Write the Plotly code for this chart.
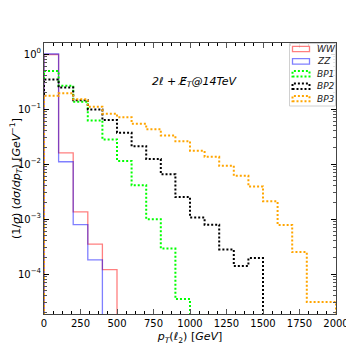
import plotly.graph_objects as go

# bin edges (GeV), 100 GeV bins
edges = list(range(0, 2100, 100))

# normalised pT(l2) distributions
ww = [0.98, 0.016, 1.35e-3, 3.5e-4, 1.2e-4]
zz = [1.0, 0.011, 7.9e-4, 1.8e-4]
bp1 = [0.49, 0.265, 0.135, 0.062, 0.028, 0.0114, 0.0041, 9.9e-4, 2.9e-4, 3.5e-5]
bp2 = [0.345, 0.245, 0.145, 0.098, 0.063, 0.037, 0.021, 0.0123, 0.0065,
       0.0025, 1.06e-3, 7.9e-4, 2.8e-4, 1.4e-4, 1.95e-4]
bp3 = [0.175, 0.193, 0.15, 0.11, 0.082, 0.071, 0.054, 0.043, 0.033, 0.026,
       0.0174, 0.0135, 0.0093, 0.0061, 0.0039, 0.0021, 7.8e-4, 2.5e-4,
       3.1e-5, 3.1e-5]

FLOOR = 1e-7


def step(vals):
    # histogram outline: up at the first edge, down after the last bin
    n = len(vals)
    xs = [edges[0]] + edges[:n] + [edges[n]]
    ys = [FLOOR] + vals + [FLOOR]
    return xs, ys


series = [
    ('WW', ww, 'rgba(255,0,0,0.5)', 'solid', 1.3),
    ('ZZ', zz, 'rgba(0,0,255,0.5)', 'solid', 1.3),
    ('BP1', bp1, '#00ff00', '2px,2px', 2),
    ('BP2', bp2, 'black', '2px,2px', 2),
    ('BP3', bp3, 'orange', '2px,2px', 2),
]

fig = go.Figure()
for name, vals, col, dash, w in series:
    xs, ys = step(vals)
    fig.add_trace(go.Scatter(
        x=xs, y=ys, mode='lines', line_shape='hv',
        line=dict(color=col, dash=dash, width=w),
        name=name, showlegend=False))

# matplotlib-style legend box drawn by hand (plot area is 292 x 271 px)
def px(x):
    return (x - 44) / 292.0


def py(y):
    return (314 - y) / 271.0


fig.add_shape(type='rect', xref='paper', yref='paper',
              x0=px(289.5), x1=px(335.5), y0=py(106), y1=py(43.5),
              line=dict(color='#d0d0d0', width=1),
              fillcolor='rgba(255,255,255,0.85)', layer='above')
for i, (name, vals, col, dash, w) in enumerate(series):
    yc = 49 + 12.4 * i
    fig.add_shape(type='rect', xref='paper', yref='paper',
                  x0=px(292.5), x1=px(309.5), y0=py(yc + 2.7), y1=py(yc - 2.7),
                  line=dict(color=col, width=1.3 if dash == 'solid' else 2,
                            dash=dash), layer='above')
    fig.add_annotation(x=px(315), y=py(yc), xref='paper', yref='paper',
                       xanchor='left', yanchor='middle', showarrow=False,
                       text='<i>%s</i>' % name, font=dict(size=9, color='#222'))

fig.add_annotation(
    x=725, y=-0.51, xref='x', yref='y', xanchor='left', yanchor='middle',
    text='<i>2ℓ + E\u0338<sub>T</sub>@14TeV</i>', showarrow=False,
    font=dict(size=11, color='black'))

tv = [1, 0.1, 0.01, 1e-3, 1e-4]
tt = ['10<sup>0</sup>', '10<sup>\u22121</sup>', '10<sup>\u22122</sup>',
      '10<sup>\u22123</sup>', '10<sup>\u22124</sup>']
minor_y = [m * 10.0 ** e for e in range(-5, 1) for m in range(2, 10)]

# the page body adds an 8px offset, so the figure is drawn 8px smaller
fig.update_layout(
    width=346, height=346,
    margin=dict(l=36, r=18, t=35, b=40),
    paper_bgcolor='white', plot_bgcolor='white',
    font=dict(family='DejaVu Sans', size=10, color='black'),
    showlegend=False,
    xaxis=dict(
        range=[0, 2000], tickvals=list(range(0, 2001, 250)),
        ticks='inside', ticklen=5, tickcolor='#555555', mirror='ticks',
        showline=True, linecolor='#444444', linewidth=1,
        showgrid=False, zeroline=False, automargin=False,
        minor=dict(dtick=62.5, tick0=0, ticks='inside', ticklen=3,
                   tickcolor='black'),
        title=dict(text='<i>p<sub>T</sub></i>(<i>ℓ</i><sub>2</sub>) [<i>GeV</i>]',
                   font=dict(size=11), standoff=4)),
    yaxis=dict(
        type='log', range=[-4.727, 0.2], tickvals=tv, ticktext=tt,
        ticks='inside', ticklen=5, tickcolor='black', mirror='ticks',
        showline=True, linecolor='#444444', linewidth=1,
        showgrid=False, zeroline=False, automargin=False,
        minor=dict(tickvals=minor_y, ticks='inside', ticklen=3,
                   tickcolor='#555555'),
        title=dict(text='(1/<i>σ</i>) (<i>dσ</i>/<i>dp<sub>T</sub></i>) [<i>GeV</i><sup>\u22121</sup>]',
                   font=dict(size=11), standoff=2)),
)

fig.write_html('out.html')
